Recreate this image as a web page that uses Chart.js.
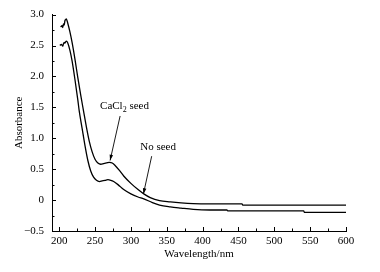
<!DOCTYPE html>
<html>
<head>
<meta charset="utf-8">
<script src="https://cdn.jsdelivr.net/npm/chart.js@4"></script>
<style>
  html, body { margin: 0; padding: 0; background: #fff; }
  #wrap { width: 380px; height: 272px; }
</style>
</head>
<body>
<div id="wrap"><canvas id="uvChart"></canvas></div>
<script>
// data
const seedWl = [202, 204, 205, 206, 207, 208, 209, 210, 211, 212, 215, 218, 222, 226, 230, 234, 238, 242, 246, 250, 254, 258, 262, 266, 270, 274, 278, 284, 290, 300, 310, 318, 327, 340, 355, 370, 387, 410, 439, 455, 456, 600];
const seedAbs = [2.80, 2.82, 2.79, 2.85, 2.83, 2.90, 2.92, 2.93, 2.90, 2.86, 2.72, 2.55, 2.28, 1.98, 1.70, 1.44, 1.18, 0.95, 0.78, 0.66, 0.60, 0.58, 0.59, 0.60, 0.61, 0.60, 0.56, 0.48, 0.39, 0.27, 0.17, 0.10, 0.04, -0.01, -0.03, -0.045, -0.056, -0.06, -0.06, -0.06, -0.08, -0.08];
const noSeedWl = [201, 203, 205, 206, 207, 208, 209, 210, 212, 215, 218, 222, 226, 228, 232, 236, 240, 244, 248, 252, 256, 260, 264, 268, 272, 276, 282, 290, 300, 310, 318, 330, 340, 355, 370, 387, 410, 434, 435, 541, 542, 600];
const noSeedAbs = [2.50, 2.52, 2.49, 2.53, 2.55, 2.54, 2.56, 2.57, 2.54, 2.42, 2.25, 1.95, 1.62, 1.44, 1.16, 0.88, 0.64, 0.47, 0.37, 0.32, 0.30, 0.31, 0.32, 0.33, 0.32, 0.30, 0.25, 0.17, 0.10, 0.05, 0.02, -0.04, -0.08, -0.11, -0.13, -0.15, -0.16, -0.16, -0.175, -0.175, -0.2, -0.2];

const xTicks = [200, 250, 300, 350, 400, 450, 500, 550, 600];
const yTicks = [-0.5, 0, 0.5, 1.0, 1.5, 2.0, 2.5, 3.0];
const yTickLabels = ["\u22120.5", "0", "0.5", "1.0", "1.5", "2.0", "2.5", "3.0"];

const FONT = "'Liberation Serif', 'Times New Roman', serif";

function toPoints(xs, ys) {
  return xs.map((x, i) => ({ x: x, y: ys[i] }));
}

// inward ticks, arrows and labels
const decoPlugin = {
  id: "deco",
  afterDraw(chart) {
    const ctx = chart.ctx;
    const xs = chart.scales.x;
    const ys = chart.scales.y;
    const area = chart.chartArea;
    ctx.save();
    ctx.strokeStyle = "#000";
    ctx.lineWidth = 1;
    ctx.beginPath();
    xTicks.forEach((v, i) => {
      const px = Math.round(xs.getPixelForValue(v)) + 0.5;
      ctx.moveTo(px, area.bottom);
      ctx.lineTo(px, area.bottom - 4);
      if (i < xTicks.length - 1) {
        const mx = Math.round(xs.getPixelForValue(v + 25)) + 0.5;
        ctx.moveTo(mx, area.bottom);
        ctx.lineTo(mx, area.bottom - 2.5);
      }
    });
    yTicks.forEach((v, i) => {
      const py = Math.round(ys.getPixelForValue(v)) + 0.5;
      ctx.moveTo(area.left, py);
      ctx.lineTo(area.left + 4, py);
      if (i < yTicks.length - 1) {
        const my = Math.round(ys.getPixelForValue(v + 0.25)) + 0.5;
        ctx.moveTo(area.left, my);
        ctx.lineTo(area.left + 2.5, my);
      }
    });
    ctx.stroke();

    function arrow(x0, y0, x1, y1) {
      const a = xs.getPixelForValue(x0), b = ys.getPixelForValue(y0);
      const c = xs.getPixelForValue(x1), d = ys.getPixelForValue(y1);
      ctx.beginPath();
      ctx.moveTo(a, b);
      ctx.lineTo(c, d);
      ctx.lineWidth = 0.9;
      ctx.stroke();
      const ang = Math.atan2(d - b, c - a);
      ctx.beginPath();
      ctx.moveTo(c, d);
      ctx.lineTo(c - 6 * Math.cos(ang - 0.3), d - 6 * Math.sin(ang - 0.3));
      ctx.lineTo(c - 6 * Math.cos(ang + 0.3), d - 6 * Math.sin(ang + 0.3));
      ctx.closePath();
      ctx.fillStyle = "#000";
      ctx.fill();
    }

    ctx.fillStyle = "#000";
    ctx.textBaseline = "alphabetic";
    ctx.textAlign = "left";
    // CaCl2 seed
    let tx = xs.getPixelForValue(257);
    let ty = ys.getPixelForValue(1.47);
    ctx.font = "11px " + FONT;
    ctx.fillText("CaCl", tx, ty);
    let w = ctx.measureText("CaCl").width;
    ctx.font = "8px " + FONT;
    ctx.fillText("2", tx + w, ty + 3);
    w += ctx.measureText("2").width;
    ctx.font = "11px " + FONT;
    ctx.fillText(" seed", tx + w, ty);
    arrow(285, 1.36, 271, 0.64);

    // No seed
    ctx.fillText("No seed", xs.getPixelForValue(313), ys.getPixelForValue(0.81));
    arrow(329, 0.71, 317.5, 0.10);
    ctx.restore();
  }
};

const ctx = document.getElementById("uvChart").getContext("2d");
new Chart(ctx, {
  type: "line",
  data: {
    datasets: [
      {
        label: "CaCl2 seed",
        data: toPoints(seedWl, seedAbs),
        borderColor: "#000",
        borderWidth: 1.3,
        pointRadius: 0,
        cubicInterpolationMode: "monotone",
        fill: false,
      },
      {
        label: "No seed",
        data: toPoints(noSeedWl, noSeedAbs),
        borderColor: "#000",
        borderWidth: 1.3,
        pointRadius: 0,
        cubicInterpolationMode: "monotone",
        fill: false,
      },
    ],
  },
  options: {
    responsive: true,
    maintainAspectRatio: false,
    animation: false,
    layout: { padding: { left: 0, right: 34, top: 12, bottom: 0 } },
    plugins: {
      legend: { display: false },
      tooltip: { enabled: false },
    },
    scales: {
      x: {
        type: "linear",
        min: 190,
        max: 600,
        afterBuildTicks: (scale) => {
          scale.ticks = xTicks.map((v) => ({ value: v }));
        },
        afterFit: (scale) => {
          scale.height = 41;
        },
        grid: { display: false, drawTicks: false },
        border: { display: true, color: "#000", width: 1 },
        ticks: {
          color: "#000",
          padding: 4,
          maxRotation: 0,
          font: { family: FONT, size: 11 },
        },
        title: {
          display: true,
          text: "Wavelength/nm",
          color: "#000",
          padding: { top: 3, bottom: 11 },
          font: { family: FONT, size: 11 },
        },
      },
      y: {
        min: -0.5,
        max: 3.0,
        afterBuildTicks: (scale) => {
          scale.ticks = yTicks.map((v) => ({ value: v }));
        },
        afterFit: (scale) => {
          scale.width = 52;
        },
        grid: { display: false, drawTicks: false },
        border: { display: true, color: "#000", width: 1 },
        ticks: {
          color: "#000",
          padding: 8,
          font: { family: FONT, size: 11 },
          callback: (v) => {
            const i = yTicks.indexOf(v);
            return i >= 0 ? yTickLabels[i] : "";
          },
        },
        title: {
          display: true,
          text: "Absorbance",
          color: "#000",
          padding: { top: 13, bottom: 0 },
          font: { family: FONT, size: 11 },
        },
      },
    },
  },
  plugins: [decoPlugin],
});
</script>
</body>
</html>
